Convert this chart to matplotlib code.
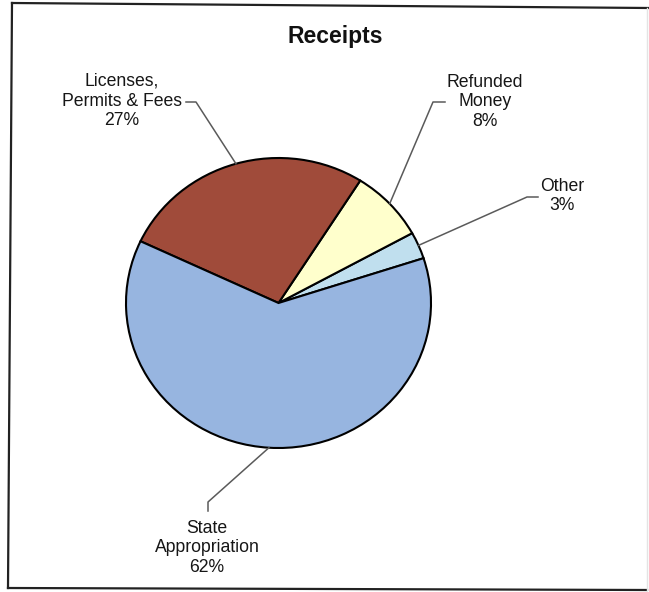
import numpy as np
import matplotlib
matplotlib.use("Agg")
import matplotlib.pyplot as plt

# ---- data ----
categories = ["Other", "Refunded\nMoney", "Licenses,\nPermits & Fees", "State\nAppropriation"]
values = [3, 8, 27, 62]
colors = ["#C0DFEE", "#FFFFCC", "#A04B3A", "#97B5E0"]
title = "Receipts"

plt.rcParams['font.family'] = ['Liberation Sans', 'DejaVu Sans']

W, H = 649, 592
fig = plt.figure(figsize=(W / 100, H / 100), dpi=100)

# pie placement in pixels (top-left origin)
PL, PT, PW, PH = 126, 158, 305, 290
ax = fig.add_axes([PL / W, (H - PT - PH) / H, PW / W, PH / H])
wedges, _ = ax.pie(values, colors=colors, startangle=18, counterclock=True,
                   wedgeprops=dict(edgecolor="black", linewidth=1.5))
ax.set_aspect('auto')
ax.set_xlim(-1.0, 1.0)
ax.set_ylim(-1.0, 1.0)
for w in wedges:
    w.set_clip_on(False)

# overlay axes in pixel coordinates
ov = fig.add_axes([0, 0, 1, 1], zorder=5)
ov.set_xlim(0, W)
ov.set_ylim(H, 0)
ov.axis('off')
ov.patch.set_alpha(0)

cx, cy = PL + PW / 2, PT + PH / 2
rx, ry = PW / 2, PH / 2

# label layout: (text center), elbow start, elbow end
layout = {
    "Other": ((562, 196), (538, 197), (527, 197)),
    "Refunded\nMoney": ((485, 102), (445, 102), (433, 102)),
    "Licenses,\nPermits & Fees": ((122, 101), (186, 102), (196, 102)),
    "State\nAppropriation": ((207, 548), (208, 511), (208, 502)),
}
lc = "#5a5a5a"
for w, cat, v in zip(wedges, categories, values):
    mid = np.deg2rad((w.theta1 + w.theta2) / 2)
    ex, ey = cx + rx * np.cos(mid), cy - ry * np.sin(mid)
    (tx, ty), (s0x, s0y), (s1x, s1y) = layout[cat]
    ov.plot([s0x, s1x, ex], [s0y, s1y, ey], color=lc, lw=1.1,
            solid_joinstyle='round')
    ov.text(tx, ty, f"{cat}\n{v}%", ha='center', va='center', fontsize=12.7,
            linespacing=1.22, color="#161616")

ov.text(335, 37, title, ha='center', va='center', fontsize=16.5,
        fontweight='bold', color="#111111")

# frame
ov.plot([12, 649], [3, 8], color="#222222", lw=1.6)
ov.plot([12, 8], [3, 588], color="#222222", lw=1.6)
ov.plot([8, 647], [588, 590], color="#222222", lw=1.6)
ov.plot([647, 647], [8, 590], color="#e4e4e4", lw=1.0)

fig.savefig("out.png", dpi=100)
